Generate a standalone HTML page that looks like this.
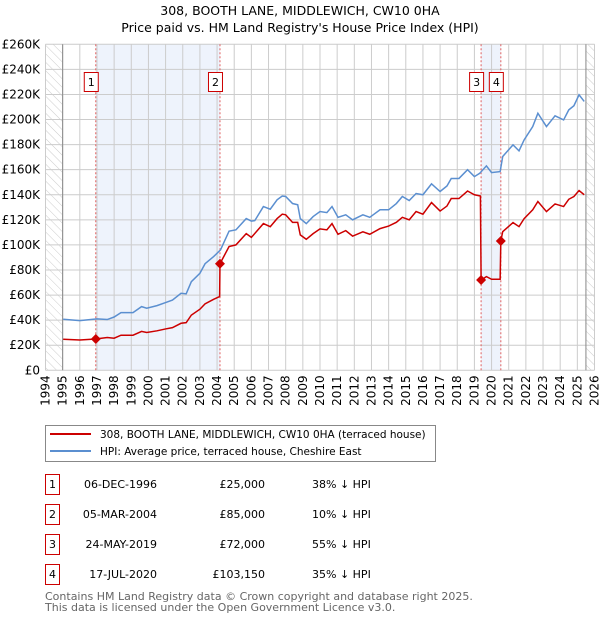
<!DOCTYPE html>
<html><head><meta charset="utf-8"><style>
body{margin:0;background:#fff;font-family:"DejaVu Sans","Liberation Sans",sans-serif;}
svg text{font-family:"DejaVu Sans","Liberation Sans",sans-serif;}
</style></head><body>
<svg id="c" width="600" height="620" xmlns="http://www.w3.org/2000/svg">
<defs><pattern id="hatch" width="6" height="6" patternUnits="userSpaceOnUse" patternTransform="rotate(-45)"><line x1="0" y1="0" x2="0" y2="6" stroke="#ccc" stroke-width="1"/></pattern></defs>
<text x="300" y="15" text-anchor="middle" font-size="12.5">308, BOOTH LANE, MIDDLEWICH, CW10 0HA</text>
<text x="300" y="32" text-anchor="middle" font-size="12.5">Price paid vs. HM Land Registry's House Price Index (HPI)</text>
<g id="plot"></g>
<g>
<rect x="45.5" y="425.5" width="390" height="36" fill="#fff" stroke="#888"/>
<line x1="50" y1="434" x2="91" y2="434" stroke="#cc0000" stroke-width="2"/>
<text x="100" y="438" font-size="10.5">308, BOOTH LANE, MIDDLEWICH, CW10 0HA (terraced house)</text>
<line x1="50" y1="451" x2="91" y2="451" stroke="#5b8fd0" stroke-width="2"/>
<text x="100" y="455" font-size="10.5">HPI: Average price, terraced house, Cheshire East</text>
</g>
<g id="table" font-size="11"></g>
<text x="45" y="600" font-size="11" fill="#666">Contains HM Land Registry data © Crown copyright and database right 2025.</text>
<text x="45" y="611" font-size="11" fill="#666">This data is licensed under the Open Government Licence v3.0.</text>
</svg>
<script>
const hpiYears=[1995.03,1996,1997,1997.6,1998,1998.4,1999.1,1999.6,1999.9,2000.5,2001,2001.4,2001.9,2002.2,2002.5,2003,2003.3,2003.8,2004.2,2004.7,2005.1,2005.7,2006,2006.2,2006.7,2007.1,2007.5,2007.8,2008,2008.4,2008.7,2008.85,2009.2,2009.6,2010,2010.4,2010.7,2011.05,2011.5,2011.9,2012.5,2012.9,2013.5,2014,2014.45,2014.8,2015.2,2015.6,2016,2016.5,2017,2017.4,2017.65,2018.1,2018.6,2019,2019.3,2019.7,2020,2020.5,2020.65,2021.25,2021.6,2021.9,2022.4,2022.7,2023.2,2023.7,2024.2,2024.5,2024.8,2025.1,2025.4];
const hpiValues=[40.7,39.6,41,40.5,42.5,46,46,50.8,49.5,51.6,54,56,61.4,61,70.7,77.4,85,90.7,96,111,112,121,119,119.4,130.6,128.5,136,139,138.6,133,132,121,117,122.6,126.6,125.8,130.6,122,124,120,124,122,128,128,133,138.6,135.4,141,140,148.7,142.6,147,153,153,160,154.5,157,163,157.7,158.5,170.5,179.8,175,183.8,194.4,205,194.4,203,199.7,207.7,211,219.7,214.4];
const redYears=[1995.03,1996,1996.92,1997.6,1998,1998.4,1999.1,1999.6,1999.9,2000.5,2001,2001.4,2001.9,2002.2,2002.5,2003,2003.3,2003.8,2004.15,2004.17,2004.7,2005.1,2005.7,2006,2006.7,2007.1,2007.5,2007.8,2008,2008.4,2008.7,2008.85,2009.2,2009.6,2010,2010.4,2010.7,2011.05,2011.5,2011.9,2012.5,2012.9,2013.5,2014,2014.45,2014.8,2015.2,2015.6,2016,2016.5,2017,2017.4,2017.65,2018.1,2018.6,2019,2019.35,2019.39,2019.7,2020,2020.5,2020.54,2020.65,2021.25,2021.6,2021.9,2022.4,2022.7,2023.2,2023.7,2024.2,2024.5,2024.8,2025.1,2025.4];
const redValues=[24.8,24.2,25,26.2,25.6,28,28,31,30.2,31.5,33,34,37.5,38,44,48.7,53,56.6,58.8,85,98.7,100,109,106,117,114.5,121,124.5,124,118,118,108,104.5,109,112.8,112,117,108.5,111.4,107,110.5,108.5,113,115,118,122,120,126.6,124.5,133.8,127,131,137,137,143,140,139,72,74.7,72.6,72.6,103.15,110.6,117.8,114.6,121,128,134.6,126.6,132.7,130.6,136.4,138.6,143.4,140];
const saleLabels=["1","2","3","4"];
const saleYears=[1996.93,2004.17,2019.39,2020.54];
const salePrices=[25,85,72,103.15];
const saleDates=["06-DEC-1996","05-MAR-2004","24-MAY-2019","17-JUL-2020"];
const salePriceText=["£25,000","£85,000","£72,000","£103,150"];
const salePct=["38% ↓ HPI","10% ↓ HPI","55% ↓ HPI","35% ↓ HPI"];
const yTicks=[0,20,40,60,80,100,120,140,160,180,200,220,240,260];
const xTicks=[1994,1995,1996,1997,1998,1999,2000,2001,2002,2003,2004,2005,2006,2007,2008,2009,2010,2011,2012,2013,2014,2015,2016,2017,2018,2019,2020,2021,2022,2023,2024,2025,2026];

const NS="http://www.w3.org/2000/svg";
const X0=45.5,X1=594.5,Y0=370.3,Y1=44.3;
const xs=y=>X0+(y-1994)/32*(X1-X0);
const ys=v=>Y0-v/260*(Y0-Y1);
const plot=document.getElementById('plot');
function mk(tag,at,parent){const e=document.createElementNS(NS,tag);for(const k in at)e.setAttribute(k,at[k]);(parent||plot).appendChild(e);return e;}
let s=mk('rect',{x:xs(saleYears[0]),y:Y1,width:xs(saleYears[1])-xs(saleYears[0]),height:Y0-Y1,fill:'#eef3fc'});


s=mk('rect',{x:xs(saleYears[2]),y:Y1,width:xs(saleYears[3])-xs(saleYears[2]),height:Y0-Y1,fill:'#eef3fc'});


s=mk('rect',{x:X0,y:Y1,width:xs(1995)-X0,height:Y0-Y1,fill:'url(#hatch)'});


s=mk('rect',{x:xs(2025.5),y:Y1,width:X1-xs(2025.5),height:Y0-Y1,fill:'url(#hatch)'});


yTicks.forEach(v=>{const y=ys(v);
 const g=mk('line',{x1:X0,x2:X1,y1:y,y2:y,stroke:'#ccc','stroke-width':1});
 
 
 const t=mk('text',{x:40,y:y+4,'text-anchor':'end','font-size':12});
 t.textContent=v===0?'£0':'£'+v+'K';
 
 
});
xTicks.forEach(yr=>{const x=xs(yr);
 const g=mk('line',{x1:x,x2:x,y1:Y1,y2:Y0,stroke:'#ccc','stroke-width':1});
 
 
 const t=mk('text',{x:x+4,y:Y0+5,'text-anchor':'end','font-size':12,transform:`rotate(-90 ${x+4} ${Y0+5})`});
 t.textContent=yr;
 
 
});
let ax=mk('line',{x1:xs(1995),x2:xs(1995),y1:Y1,y2:Y0,stroke:'#888'});


ax=mk('line',{x1:xs(2025.5),x2:xs(2025.5),y1:Y1,y2:Y0,stroke:'#888'});


saleYears.forEach((yr,i)=>{const l=mk('line',{x1:xs(yr),x2:xs(yr),y1:Y1,y2:Y0,stroke:'#e06060','stroke-dasharray':'2,2','stroke-width':1});
 
 });
const hp=mk('polyline',{points:hpiYears.map((y,i)=>xs(y)+','+ys(hpiValues[i])).join(' '),fill:'none',stroke:'#5b8fd0','stroke-width':1.5});


const rp=mk('polyline',{points:redYears.map((y,i)=>xs(y)+','+ys(redValues[i])).join(' '),fill:'none',stroke:'#cc0000','stroke-width':1.5});


saleYears.forEach((yr,i)=>{const x=xs(yr),y=ys(salePrices[i]);
 const d=mk('polygon',{points:`${x},${y-5} ${x+5},${y} ${x},${y+5} ${x-5},${y}`,fill:'#cc0000'});
 
 
 const b=mk('rect',{x:x-11.5,y:72.5,width:14,height:19,fill:'#fff',stroke:'#cc0000'});
 
 
 const t=mk('text',{x:x-4.5,y:86,'text-anchor':'middle','font-size':11});
 t.textContent=saleLabels[i];
 
 
});
const tb=document.getElementById('table');
saleLabels.forEach((lab,i)=>{const cy=483+i*30;
 const r=mk('rect',{x:45.5,y:cy-8.5,width:14,height:20,fill:'#fff',stroke:'#cc0000'},tb);
 
 
 const n=mk('text',{x:52.5,y:cy+5,'text-anchor':'middle'},tb);n.textContent=lab;
 
 
 const d=mk('text',{x:157,y:cy+5,'text-anchor':'end'},tb);d.textContent=saleDates[i];
 
 
 const p=mk('text',{x:265,y:cy+5,'text-anchor':'end'},tb);p.textContent=salePriceText[i];
 
 
 const c=mk('text',{x:312,y:cy+5},tb);c.textContent=salePct[i];
 
 
});
</script>
</body></html>
